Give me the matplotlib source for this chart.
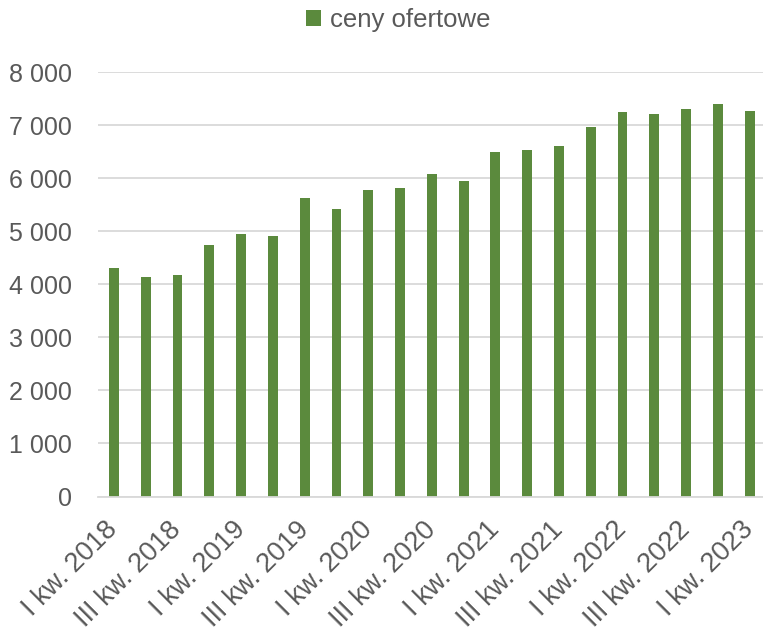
import matplotlib
matplotlib.use("Agg")
import matplotlib.pyplot as plt
from matplotlib.ticker import FuncFormatter

plt.rcParams['font.family'] = ['Liberation Sans', 'DejaVu Sans']

quarters = [
    "I kw. 2018", "II kw. 2018", "III kw. 2018", "IV kw. 2018",
    "I kw. 2019", "II kw. 2019", "III kw. 2019", "IV kw. 2019",
    "I kw. 2020", "II kw. 2020", "III kw. 2020", "IV kw. 2020",
    "I kw. 2021", "II kw. 2021", "III kw. 2021", "IV kw. 2021",
    "I kw. 2022", "II kw. 2022", "III kw. 2022", "IV kw. 2022",
    "I kw. 2023",
]
ceny_ofertowe = [
    4310, 4140, 4170, 4740, 4950, 4915, 5620, 5430, 5780, 5820,
    6085, 5950, 6490, 6530, 6610, 6965, 7255, 7215, 7310, 7405, 7275,
]
y_ticks = [0, 1000, 2000, 3000, 4000, 5000, 6000, 7000, 8000]

bar_color = "#5B8A3D"
text_color = "#595959"
grid_color = "#D9D9D9"

W, H = 763, 637
fig = plt.figure(figsize=(W / 100, H / 100), dpi=100)
left, right = 98.0 / W, 765.6 / W
bottom, top = 1 - 496.5 / H, 1 - 72.3 / H
ax = fig.add_axes([left, bottom, right - left, top - bottom])

x = list(range(len(quarters)))
bars = ax.bar(x, ceny_ofertowe, width=0.31, color=bar_color,
              label="ceny ofertowe", zorder=3)

ax.set_xlim(-0.5, len(quarters) - 0.5)
ax.set_ylim(0, 8000)
ax.set_yticks(y_ticks)
ax.yaxis.set_major_formatter(FuncFormatter(lambda v, p: f"{int(v):,}".replace(",", " ")))
ax.grid(axis="y", color=grid_color, linewidth=1.3, zorder=0)

for s in ["top", "right", "left"]:
    ax.spines[s].set_visible(False)
ax.spines["bottom"].set_color(grid_color)
ax.spines["bottom"].set_linewidth(1.3)
ax.spines["bottom"].set_zorder(4)

ax.tick_params(axis="y", length=0, pad=18.7, labelsize=18, labelcolor=text_color)
ax.tick_params(axis="x", length=0, pad=21, labelsize=19.5, labelcolor=text_color)

ax.set_xticks(x[::2])
ax.set_xticklabels(quarters[::2], rotation=45, ha="right", va="center",
                   rotation_mode="anchor")

fig.legend(handles=[bars], labels=["ceny ofertowe"], loc="center",
           bbox_to_anchor=(398 / W, 1 - 20 / H), frameon=False,
           fontsize=18.5, labelcolor=text_color, handlelength=0.6,
           handleheight=0.6, handletextpad=0.35)

fig.savefig("out.png", dpi=100, facecolor="white")
